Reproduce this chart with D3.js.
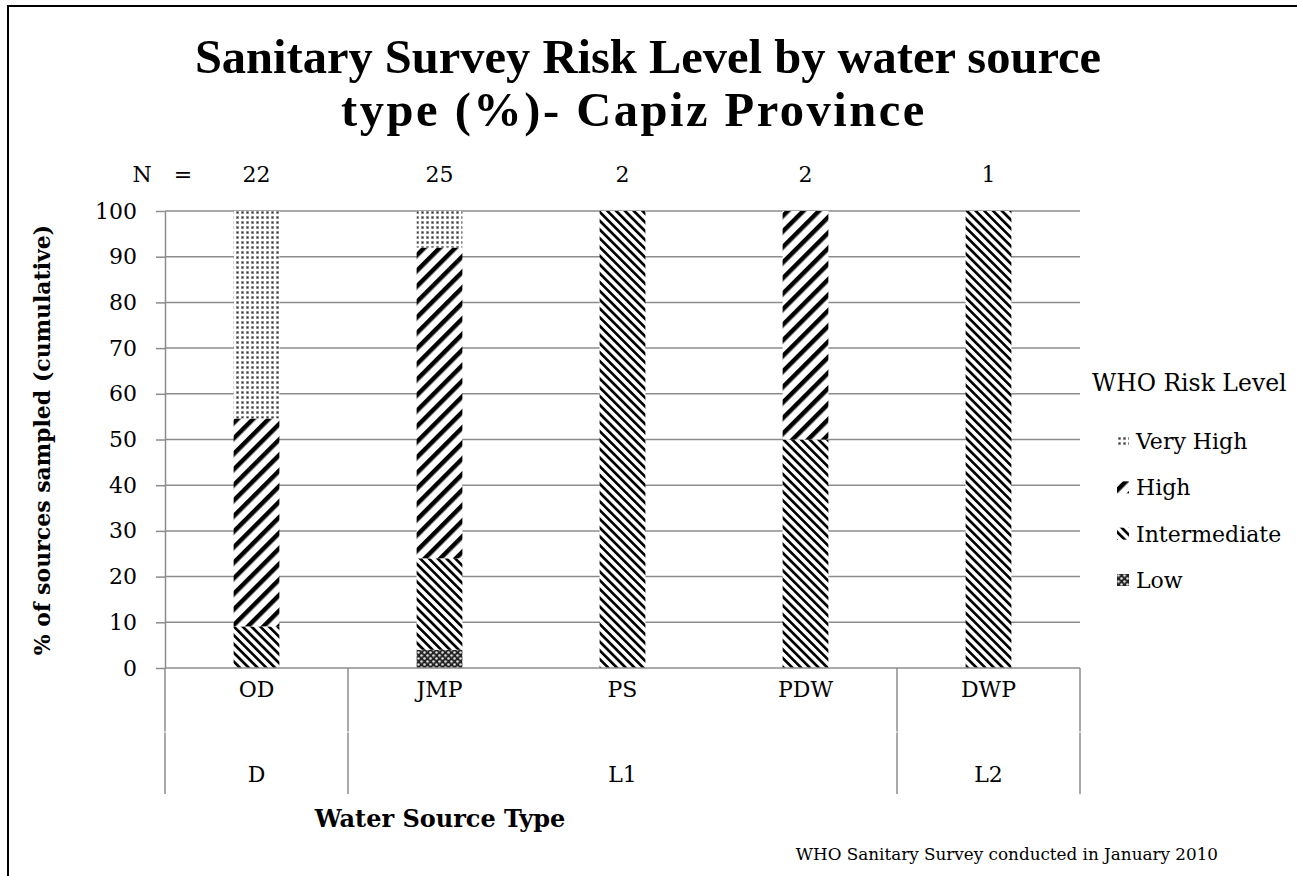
<!DOCTYPE html>
<html>
<head>
<meta charset="utf-8">
<script src="https://cdn.jsdelivr.net/npm/d3@7"></script>
<style>
  html, body { margin: 0; padding: 0; background: #fff; }
  svg { display: block; }
  text { font-family: "DejaVu Serif", "Liberation Serif", serif; fill: #000; }
</style>
</head>
<body>
<svg id="chart" width="1297" height="876"></svg>
<script>
// Water source categories and their grouping levels
const categories = ["OD", "JMP", "PS", "PDW", "DWP"];
const groupLabels = ["D", "L1", "L2"];
const groupSizes = [1, 3, 1];
const sampleCounts = [22, 25, 2, 2, 1];

// Risk level shares (%) per category, stacked bottom to top
const low = [0, 4, 0, 0, 0];
const intermediate = [9.1, 20, 100, 50, 100];
const high = [45.5, 68, 0, 50, 0];
const veryHigh = [45.4, 8, 0, 0, 0];

const riskKeys = ["Low", "Intermediate", "High", "Very High"];
const yTicks = [0, 10, 20, 30, 40, 50, 60, 70, 80, 90, 100];

const rows = categories.map((c, i) => ({
  cat: c,
  "Low": low[i],
  "Intermediate": intermediate[i],
  "High": high[i],
  "Very High": veryHigh[i]
}));

const svg = d3.select("#chart");
const plot = { left: 165, right: 1080, top: 211, bottom: 668 };
const labelSize = "22px";

// Outer chart frame
svg.append("rect")
  .attr("x", 8).attr("y", 6)
  .attr("width", 1310).attr("height", 900)
  .attr("fill", "none").attr("stroke", "#000").attr("stroke-width", 2);

// Fill patterns for each risk level
const defs = svg.append("defs");
const pVH = defs.append("pattern").attr("id", "pat-vh")
  .attr("patternUnits", "userSpaceOnUse").attr("width", 5).attr("height", 5);
pVH.append("rect").attr("width", 5).attr("height", 5).attr("fill", "#fff");
pVH.append("rect").attr("x", 1.2).attr("y", 1.2).attr("width", 2.6).attr("height", 2.6).attr("fill", "#6a6a6a");
pVH.append("rect").attr("x", 2).attr("y", 2).attr("width", 1).attr("height", 1).attr("fill", "#333");

const pH = defs.append("pattern").attr("id", "pat-h")
  .attr("patternUnits", "userSpaceOnUse").attr("width", 11).attr("height", 11)
  .attr("patternTransform", "rotate(45)");
pH.append("rect").attr("width", 11).attr("height", 11).attr("fill", "#fff");
pH.append("rect").attr("x", 0).attr("width", 4.5).attr("height", 11).attr("fill", "#000");

const pI = defs.append("pattern").attr("id", "pat-i")
  .attr("patternUnits", "userSpaceOnUse").attr("width", 6.2).attr("height", 6.2)
  .attr("patternTransform", "rotate(-45)");
pI.append("rect").attr("width", 6.2).attr("height", 6.2).attr("fill", "#fff");
pI.append("rect").attr("x", 0).attr("width", 2.7).attr("height", 6.2).attr("fill", "#000");

const pL = defs.append("pattern").attr("id", "pat-l")
  .attr("patternUnits", "userSpaceOnUse").attr("width", 6).attr("height", 6);
pL.append("rect").attr("width", 6).attr("height", 6).attr("fill", "#222");
pL.append("circle").attr("cx", 1.5).attr("cy", 1.5).attr("r", 1.3).attr("fill", "#ddd");
pL.append("circle").attr("cx", 4.5).attr("cy", 4.5).attr("r", 1.3).attr("fill", "#ddd");
pL.append("rect").attr("x", 2.6).attr("y", 0.8).attr("width", 0.8).attr("height", 1.4).attr("fill", "#888");
pL.append("rect").attr("x", 0.8).attr("y", 2.6).attr("width", 1.4).attr("height", 0.8).attr("fill", "#888");

const fills = {
  "Low": "url(#pat-l)",
  "Intermediate": "url(#pat-i)",
  "High": "url(#pat-h)",
  "Very High": "url(#pat-vh)"
};

// Scales
const x = d3.scaleBand().domain(categories).range([plot.left, plot.right]).padding(0);
const y = d3.scaleLinear().domain([0, 100]).range([plot.bottom, plot.top]);
const barW = x.bandwidth() * 0.25;

// Gridlines
svg.append("g")
  .selectAll("line").data(yTicks.filter(t => t > 0)).join("line")
  .attr("x1", plot.left).attr("x2", plot.right)
  .attr("y1", d => y(d)).attr("y2", d => y(d))
  .attr("stroke", "#8c8c8c").attr("stroke-width", 1.5);

// Y axis
const yAxis = svg.append("g")
  .attr("transform", `translate(${plot.left},0)`)
  .call(d3.axisLeft(y).tickValues(yTicks).tickSize(9).tickSizeOuter(0).tickPadding(19));
yAxis.select(".domain").attr("stroke", "#8c8c8c").attr("stroke-width", 1.5);
yAxis.selectAll(".tick line").attr("stroke", "#8c8c8c").attr("stroke-width", 1.5);
yAxis.selectAll(".tick text")
  .style("font-family", "'DejaVu Serif', serif").style("font-size", labelSize).attr("fill", "#000");

// Stacked bars
const series = d3.stack().keys(riskKeys)(rows);
svg.append("g").selectAll("g").data(series).join("g")
  .attr("fill", d => fills[d.key])
  .selectAll("rect").data(d => d).join("rect")
  .attr("x", d => x(d.data.cat) + (x.bandwidth() - barW) / 2)
  .attr("width", barW)
  .attr("y", d => y(d[1]))
  .attr("height", d => Math.max(0, y(d[0]) - y(d[1])));

// Category axis with grouped second level
const axisColor = "#8c8c8c";
svg.append("line")
  .attr("x1", plot.left).attr("x2", plot.right)
  .attr("y1", plot.bottom).attr("y2", plot.bottom)
  .attr("stroke", axisColor).attr("stroke-width", 1.5);

const rowSplit = 732;
const axisBottom = 794;
const bounds = [0];
groupSizes.reduce((acc, s) => { bounds.push(acc + s); return acc + s; }, 0);
const boundaryX = bounds.map(i => i < categories.length ? x(categories[i]) : plot.right);
const sep = svg.append("g");
sep.selectAll("line.upper").data(boundaryX).join("line").attr("class", "upper")
  .attr("x1", d => d).attr("x2", d => d)
  .attr("y1", plot.bottom).attr("y2", rowSplit - 0.5)
  .attr("stroke", axisColor).attr("stroke-width", 1.5);
sep.selectAll("line.lower").data(boundaryX).join("line").attr("class", "lower")
  .attr("x1", d => d).attr("x2", d => d)
  .attr("y1", rowSplit + 0.5).attr("y2", axisBottom)
  .attr("stroke", axisColor).attr("stroke-width", 1.5);

svg.append("g").selectAll("text").data(categories).join("text")
  .attr("x", d => x(d) + x.bandwidth() / 2)
  .attr("y", 697)
  .attr("text-anchor", "middle")
  .style("font-size", labelSize)
  .text(d => d);

svg.append("g").selectAll("text").data(groupLabels).join("text")
  .attr("x", (d, i) => (boundaryX[i] + boundaryX[i + 1]) / 2)
  .attr("y", 782)
  .attr("text-anchor", "middle")
  .style("font-size", labelSize)
  .text(d => d);

// Sample size row above the bars
svg.append("text").attr("x", 142).attr("y", 182).attr("text-anchor", "middle")
  .style("font-size", labelSize).text("N");
svg.append("text").attr("x", 183).attr("y", 182).attr("text-anchor", "middle")
  .style("font-size", labelSize).text("=");
svg.append("g").selectAll("text").data(sampleCounts).join("text")
  .attr("x", (d, i) => x(categories[i]) + x.bandwidth() / 2)
  .attr("y", 182)
  .attr("text-anchor", "middle")
  .style("font-size", labelSize)
  .text(d => d);

// Title
const title = svg.append("text")
  .attr("text-anchor", "middle")
  .style("font-family", "'Liberation Serif', serif")
  .style("font-size", "48.5px").style("font-weight", "bold");
title.append("tspan").attr("x", 648).attr("y", 73).text("Sanitary Survey Risk Level by water source");
title.append("tspan").attr("x", 634).attr("y", 126).style("letter-spacing", "2.5px")
  .text("type (%)- Capiz Province");

// Axis titles
svg.append("text")
  .attr("transform", "translate(50,440) rotate(-90)")
  .attr("text-anchor", "middle")
  .style("font-size", labelSize).style("font-weight", "bold")
  .text("% of sources sampled (cumulative)");

svg.append("text")
  .attr("x", 440).attr("y", 827)
  .attr("text-anchor", "middle")
  .style("font-size", "24px").style("font-weight", "bold")
  .text("Water Source Type");

// Source note
svg.append("text")
  .attr("x", 1218).attr("y", 860)
  .attr("text-anchor", "end")
  .style("font-size", "16.8px")
  .text("WHO Sanitary Survey conducted in January 2010");

// Legend
svg.append("text")
  .attr("x", 1092).attr("y", 391)
  .style("font-size", "23.5px")
  .text("WHO Risk Level");

const legendItems = riskKeys.slice().reverse();
const legendY = d3.scalePoint().domain(legendItems).range([441, 580]);
const lg = svg.append("g").selectAll("g").data(legendItems).join("g")
  .attr("transform", d => `translate(1117,${legendY(d)})`);
lg.append("rect")
  .attr("x", 0).attr("y", -6).attr("width", 12).attr("height", 12)
  .attr("fill", d => fills[d]);
lg.append("text")
  .attr("x", 19).attr("y", 8)
  .style("font-size", labelSize)
  .text(d => d);
</script>
</body>
</html>
